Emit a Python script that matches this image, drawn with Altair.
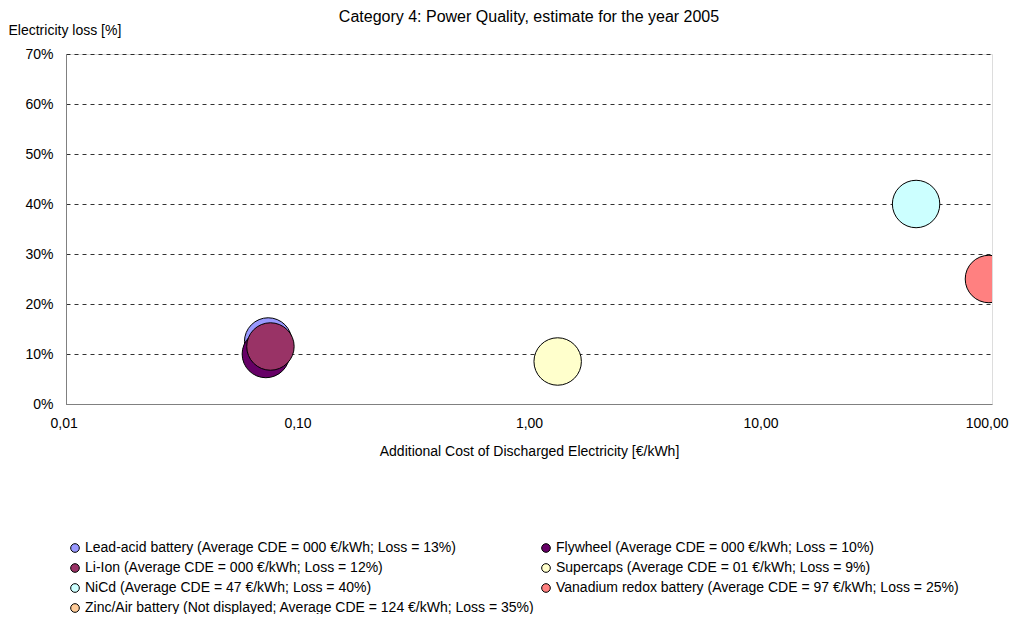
import altair as alt
import pandas as pd

series = ["Lead-acid battery", "Flywheel", "Li-Ion", "Supercaps", "NiCd",
          "Vanadium redox battery", "Zinc/Air battery"]
legend_labels = [
    "Lead-acid battery (Average CDE = 000 €/kWh; Loss = 13%)",
    "Flywheel (Average CDE = 000 €/kWh; Loss = 10%)",
    "Li-Ion (Average CDE = 000 €/kWh; Loss = 12%)",
    "Supercaps (Average CDE = 01 €/kWh; Loss = 9%)",
    "NiCd (Average CDE = 47 €/kWh; Loss = 40%)",
    "Vanadium redox battery (Average CDE = 97 €/kWh; Loss = 25%)",
    "Zinc/Air battery (Not displayed; Average CDE = 124 €/kWh; Loss = 35%)",
]
cost = [0.0747, 0.0730, 0.0764, 1.33, 47.0, 97.0, None]
loss = [0.125, 0.100, 0.115, 0.085, 0.400, 0.250, None]
colors = ["#9999FF", "#660066", "#993366", "#FFFFCC", "#CCFFFF", "#FF8080", "#FFCC99"]
x_ticks = [0.01, 0.1, 1, 10, 100]
y_ticks = [0, 0.1, 0.2, 0.3, 0.4, 0.5, 0.6, 0.7]

# legend is filled column by column: arrange so it reads row by row (2 columns)
n_rows = (len(legend_labels) + 1) // 2
legend_order = [legend_labels[2 * r + c] for c in range(2) for r in range(n_rows)
                if 2 * r + c < len(legend_labels)]
legend_colors = [colors[legend_labels.index(l)] for l in legend_order]

df = pd.DataFrame({"series": series, "label": legend_labels, "cost": cost,
                   "loss": loss, "order": list(range(len(series)))})
df = df.dropna()

FONT = "Liberation Sans"
FS = 14

chart = alt.Chart(df).mark_circle(
    size=2250, opacity=1, stroke="black", strokeWidth=1, clip=True
).encode(
    x=alt.X("cost:Q", scale=alt.Scale(type="log", domain=[0.01, 100], nice=False),
            axis=alt.Axis(values=x_ticks, grid=False, ticks=False,
                          labelFlush=True, labelFlushOffset=16,
                          labelExpr="replace(format(datum.value, '.2f'), '.', ',')",
                          title="Additional Cost of Discharged Electricity [€/kWh]",
                          titlePadding=14, labelPadding=12, domainColor="#808080",
                          labelFontSize=FS, titleFontSize=FS, titleFontWeight="normal",
                          labelFont=FONT, titleFont=FONT, labelColor="black", titleColor="black")),
    y=alt.Y("loss:Q", scale=alt.Scale(domain=[0, 0.7], nice=False),
            axis=alt.Axis(values=y_ticks, format=".0%", grid=True, gridDash=[4, 4],
                          gridColor="black", gridOpacity=0.8, ticks=False, labelPadding=13,
                          labelFlush=False, domainColor="#808080",
                          title="Electricity loss [%]", titleAngle=0, titleAlign="left",
                          titleBaseline="middle", titleX=-58, titleY=-24,
                          labelFontSize=FS, titleFontSize=FS, titleFontWeight="normal",
                          labelFont=FONT, titleFont=FONT, labelColor="black", titleColor="black")),
    fill=alt.Fill("label:N", scale=alt.Scale(domain=legend_order, range=legend_colors),
                  legend=alt.Legend(orient="none", legendX=2, legendY=487, columns=2,
                                    title=None, symbolType="circle", symbolSize=75,
                                    symbolStrokeColor="black", symbolStrokeWidth=1,
                                    symbolFillColor="white",
                                    labelFont=FONT, labelFontSize=FS, labelColor="black",
                                    labelLimit=700, rowPadding=6, columnPadding=4,
                                    labelOffset=3)),
    order=alt.Order("order:Q"),
).properties(
    width=926, height=350,
    title=alt.TitleParams("Category 4: Power Quality, estimate for the year 2005",
                          font=FONT, fontSize=16, fontWeight="normal", color="black",
                          anchor="middle", frame="group", offset=0, dy=2),
    padding={"left": 58, "top": 46, "right": 19, "bottom": 210},
    autosize="none",
).configure_view(stroke=None).configure(background="white")

chart.save("out.html", embed_options={"renderer": "svg", "actions": False})
